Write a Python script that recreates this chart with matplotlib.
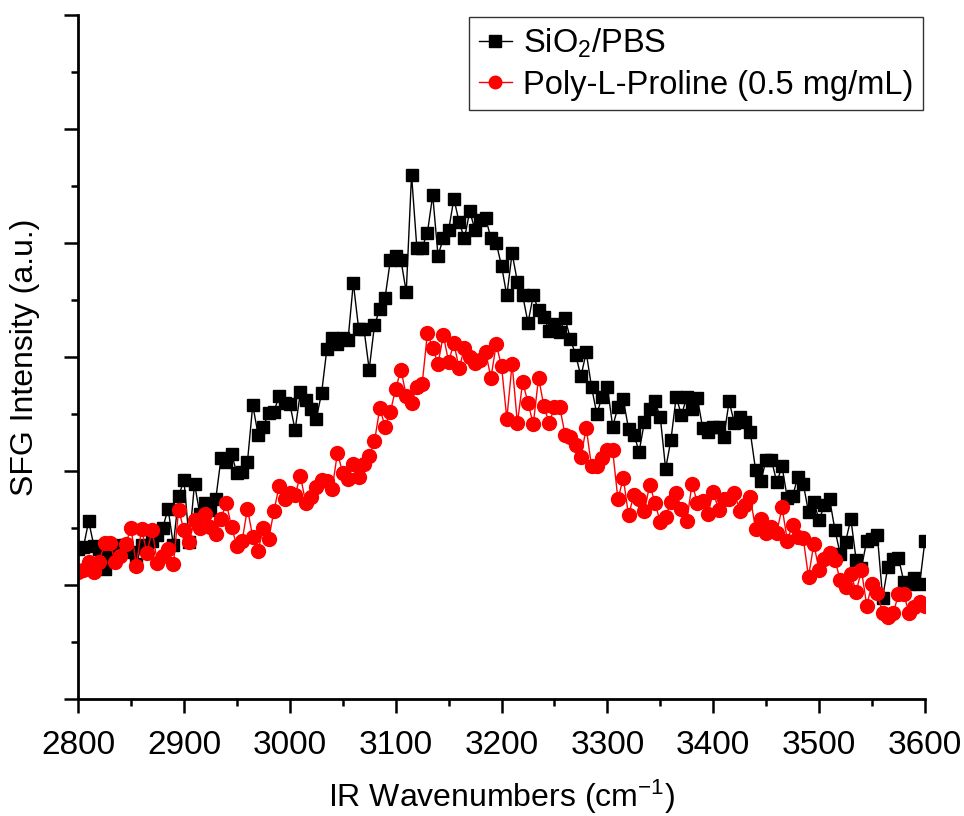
import numpy as np
import matplotlib
matplotlib.use("Agg")
import matplotlib.pyplot as plt
from matplotlib.ticker import MultipleLocator, NullFormatter

# IR wavenumbers, 5 cm-1 steps
wavenumber = np.arange(2800, 3601, 5)

# SFG intensity (arbitrary units)
sio2_pbs = [
    1.32, 1.33, 1.56, 1.34, 1.32, 1.14, 1.25, 1.35, 1.32, 1.35,
    1.29, 1.18, 1.35, 1.32, 1.39, 1.44, 1.50, 1.67, 1.35, 1.78,
    1.92, 1.38, 1.89, 1.62, 1.72, 1.66, 1.75, 2.11, 2.08, 2.15,
    1.98, 1.99, 2.08, 2.58, 2.32, 2.39, 2.51, 2.52, 2.66, 2.60,
    2.59, 2.36, 2.69, 2.62, 2.54, 2.46, 2.68, 3.07, 3.17, 3.11,
    3.17, 3.15, 3.65, 3.25, 3.25, 2.89, 3.28, 3.42, 3.52, 3.85,
    3.89, 3.85, 3.57, 4.60, 3.96, 3.96, 4.09, 4.42, 3.89, 4.04,
    4.11, 4.39, 4.18, 4.04, 4.28, 4.11, 4.20, 4.22, 4.04, 4.00,
    3.80, 3.54, 3.91, 3.66, 3.54, 3.30, 3.54, 3.41, 3.35, 3.23,
    3.29, 3.22, 3.34, 3.16, 3.02, 2.83, 3.04, 2.74, 2.50, 2.65,
    2.74, 2.39, 2.56, 2.63, 2.37, 2.32, 2.17, 2.43, 2.54, 2.61,
    2.47, 2.02, 2.27, 2.65, 2.49, 2.65, 2.54, 2.64, 2.38, 2.34,
    2.39, 2.39, 2.30, 2.61, 2.42, 2.47, 2.43, 2.34, 2.01, 1.91,
    2.10, 2.10, 1.90, 2.04, 1.76, 1.78, 1.95, 1.89, 1.64, 1.73,
    1.57, 1.70, 1.75, 1.48, 1.27, 1.38, 1.58, 1.22, 1.15, 1.39,
    1.40, 1.44, 0.89, 1.16, 1.23, 1.24, 1.03, 1.01, 1.06, 1.01,
    1.39,
]

poly_l_proline = [
    1.11, 1.13, 1.20, 1.11, 1.20, 1.37, 1.37, 1.20, 1.25, 1.36,
    1.50, 1.17, 1.49, 1.28, 1.48, 1.19, 1.25, 1.32, 1.18, 1.66,
    1.48, 1.38, 1.57, 1.50, 1.62, 1.51, 1.45, 1.58, 1.72, 1.51,
    1.34, 1.39, 1.67, 1.42, 1.30, 1.50, 1.40, 1.65, 1.87, 1.75,
    1.81, 1.79, 1.96, 1.72, 1.77, 1.86, 1.92, 1.91, 1.84, 2.16,
    1.98, 1.93, 2.06, 1.95, 2.06, 2.13, 2.26, 2.55, 2.39, 2.52,
    2.72, 2.89, 2.66, 2.60, 2.74, 2.76, 3.21, 3.08, 2.94, 3.19,
    2.96, 3.12, 2.90, 3.08, 3.00, 2.95, 2.97, 3.04, 2.82, 3.11,
    2.92, 2.46, 2.94, 2.42, 2.78, 2.60, 2.41, 2.82, 2.57, 2.42,
    2.56, 2.56, 2.32, 2.30, 2.23, 2.12, 2.38, 2.04, 2.04, 2.11,
    2.18, 2.18, 1.75, 1.94, 1.61, 1.79, 1.75, 1.65, 1.88, 1.72,
    1.55, 1.60, 1.73, 1.81, 1.67, 1.56, 1.89, 1.72, 1.74, 1.62,
    1.82, 1.66, 1.75, 1.75, 1.81, 1.65, 1.70, 1.77, 1.49, 1.58,
    1.46, 1.51, 1.46, 1.68, 1.39, 1.53, 1.42, 1.41, 1.07, 1.36,
    1.13, 1.23, 1.28, 1.22, 1.04, 0.98, 1.10, 0.94, 1.13, 0.82,
    1.01, 0.93, 0.75, 0.72, 0.75, 0.92, 0.92, 0.75, 0.81, 0.85,
    0.82,
]

plt.rcParams['font.family'] = ['Liberation Sans', 'DejaVu Sans']
plt.rcParams['mathtext.fontset'] = 'custom'
plt.rcParams['mathtext.rm'] = 'Liberation Sans'
plt.rcParams['mathtext.it'] = 'Liberation Sans'
plt.rcParams['mathtext.default'] = 'regular'

fig = plt.figure(figsize=(9.64, 8.16), dpi=100)
ax = fig.add_axes([0.081, 0.1434, 0.8785, 0.8382])

ax.plot(wavenumber, sio2_pbs, color='black', marker='s', markersize=9,
        linewidth=1.0, label='SiO$_2$/PBS')
ax.plot(wavenumber, poly_l_proline, color='red', marker='o', markersize=10,
        linewidth=1.0, label='Poly-L-Proline (0.5 mg/mL)')

ax.set_xlim(2800, 3600)
ax.set_ylim(0, 6)
ax.xaxis.set_major_locator(MultipleLocator(100))
ax.xaxis.set_minor_locator(MultipleLocator(50))
ax.yaxis.set_major_locator(MultipleLocator(1))
ax.yaxis.set_minor_locator(MultipleLocator(0.5))
ax.yaxis.set_major_formatter(NullFormatter())

for side in ['top', 'right']:
    ax.spines[side].set_visible(False)
for side in ['left', 'bottom']:
    ax.spines[side].set_linewidth(2.0)

ax.tick_params(which='major', direction='out', length=10, width=1.8)
ax.tick_params(which='minor', direction='out', length=5, width=1.8)
ax.tick_params(axis='x', labelsize=24, pad=12)

ax.set_xlabel('IR Wavenumbers (cm$^{-1}$)', fontsize=23, labelpad=12)
ax.set_ylabel('SFG Intensity (a.u.)', fontsize=23, labelpad=14)

leg = ax.legend(loc='upper right', fontsize=23.5, frameon=True, fancybox=False,
                handlelength=1.0, handletextpad=0.35, borderpad=0.3,
                labelspacing=0.3, borderaxespad=0.05, markerscale=0.9)
leg.get_frame().set_edgecolor('black')
leg.get_frame().set_linewidth(1.0)

fig.savefig('out.png', dpi=100)
